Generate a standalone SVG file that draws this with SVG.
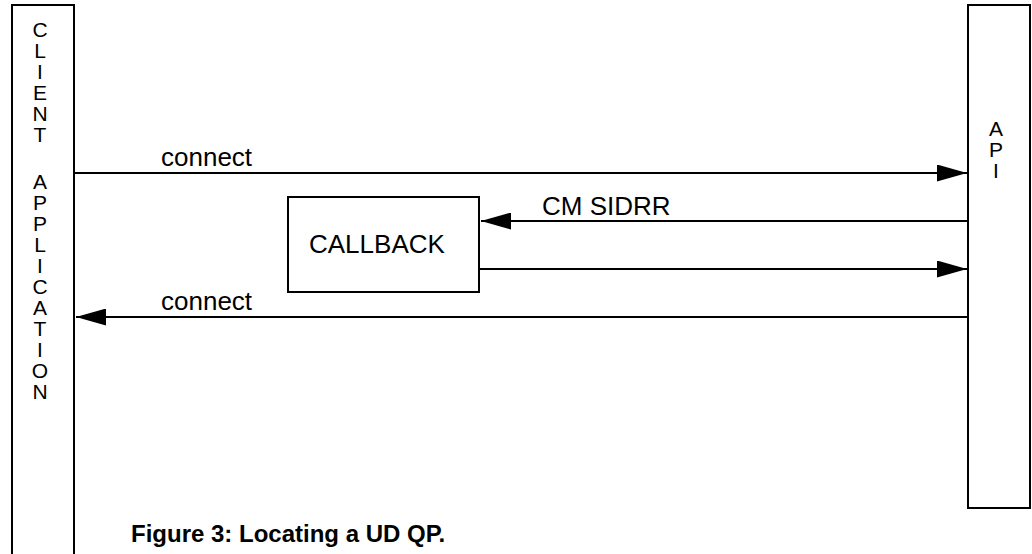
<svg xmlns="http://www.w3.org/2000/svg" width="1032" height="554" viewBox="0 0 1032 554">
<style>
.box{fill:#fff;stroke:#000;stroke-width:2}
.ln{stroke:#000;stroke-width:2;fill:none}
.lbl{font-family:"Liberation Sans",Arial,sans-serif;font-size:26px;fill:#000}
.v{font-family:"Liberation Sans",Arial,sans-serif;font-size:21px;fill:#000;text-anchor:middle}
.cap{font-family:"Liberation Sans",Arial,sans-serif;font-size:24px;font-weight:bold;fill:#000}
</style>
<defs>
<marker id="ah" viewBox="0 0 30 17" refX="30" refY="8.5" markerWidth="30" markerHeight="17" markerUnits="userSpaceOnUse" orient="auto">
<path d="M0,0 L30,8.5 L0,17 Z" fill="#000"/>
</marker>
</defs>
<rect width="1032" height="554" fill="#fff"/>
<g id="client">
<rect class="box" x="12" y="5" width="62" height="570"/>
<text class="v" x="40" y="37">C</text>
<text class="v" x="40" y="58">L</text>
<text class="v" x="40" y="79">I</text>
<text class="v" x="40" y="100">E</text>
<text class="v" x="40" y="121">N</text>
<text class="v" x="40" y="142">T</text>
<text class="v" x="40" y="189">A</text>
<text class="v" x="40" y="210">P</text>
<text class="v" x="40" y="231">P</text>
<text class="v" x="40" y="252">L</text>
<text class="v" x="40" y="273">I</text>
<text class="v" x="40" y="294">C</text>
<text class="v" x="40" y="315">A</text>
<text class="v" x="40" y="336">T</text>
<text class="v" x="40" y="357">I</text>
<text class="v" x="40" y="378">O</text>
<text class="v" x="40" y="399">N</text>
</g>
<g id="api">
<rect class="box" x="968" y="5" width="62" height="503"/>
<text class="v" x="996" y="136">A</text>
<text class="v" x="996" y="157">P</text>
<text class="v" x="996" y="178">I</text>
</g>
<g id="callback">
<rect class="box" x="288" y="197" width="191" height="95"/>
<text class="lbl" x="309" y="253">CALLBACK</text>
</g>
<g id="connectors">
<line class="ln" x1="75" y1="173" x2="967" y2="173" marker-end="url(#ah)"/>
<text class="lbl" x="161" y="166">connect</text>
<line class="ln" x1="967" y1="221" x2="481" y2="221" marker-end="url(#ah)"/>
<text class="lbl" x="542" y="215">CM SIDRR</text>
<line class="ln" x1="480" y1="269" x2="967" y2="269" marker-end="url(#ah)"/>
<line class="ln" x1="967" y1="317" x2="76" y2="317" marker-end="url(#ah)"/>
<text class="lbl" x="161" y="310">connect</text>
</g>
<text id="caption" class="cap" x="131" y="542">Figure 3: Locating a UD QP.</text>
</svg>
